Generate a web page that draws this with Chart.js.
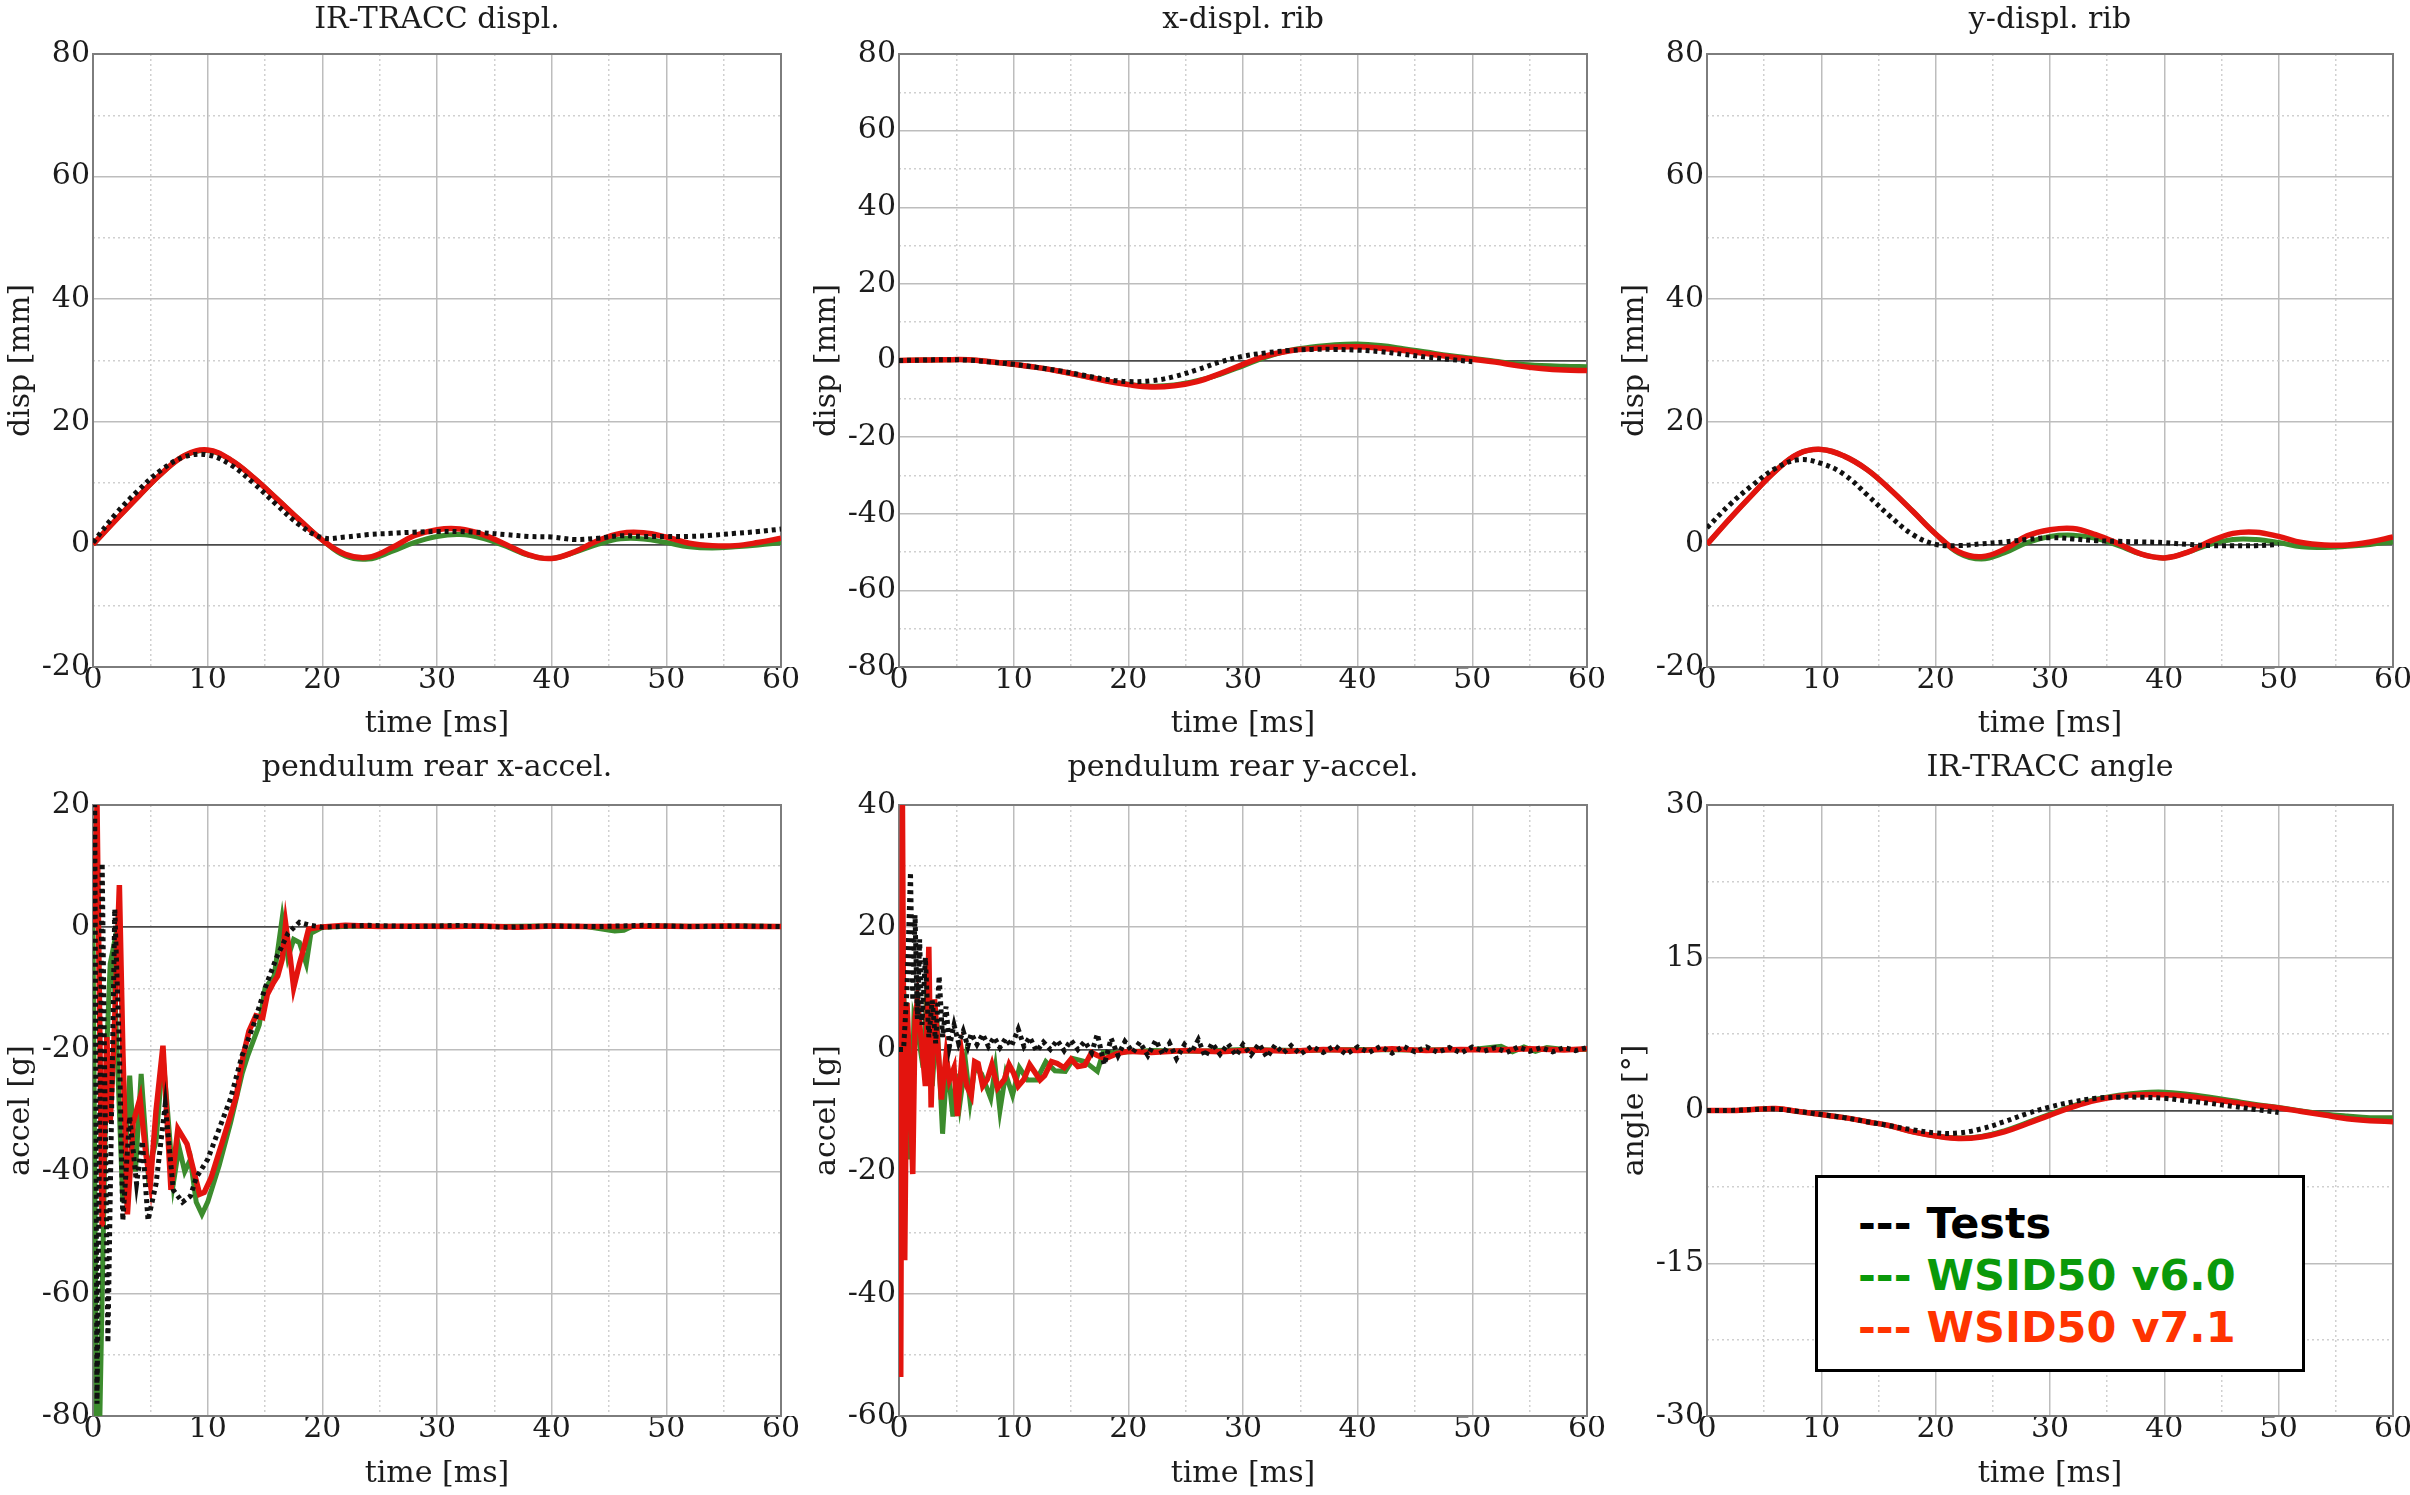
<!DOCTYPE html>
<html>
<head>
<meta charset="utf-8">
<title>WSID50 pendulum comparison</title>
<script src="https://cdn.jsdelivr.net/npm/chart.js@4.4.1/dist/chart.umd.min.js"></script>
<style>
  html, body { margin: 0; padding: 0; background: #fff; }
  body { position: relative; width: 2410px; height: 1495px; overflow: hidden; }
  canvas { position: absolute; }
  #legend {
    position: absolute; left: 1815px; top: 1175px; width: 490px; height: 197px;
    box-sizing: border-box; border: 3px solid #000; background: #fff;
    padding: 19px 0 0 40px; z-index: 2;
    font: bold 43px 'DejaVu Sans', sans-serif; line-height: 52px; white-space: pre;
  }
</style>
</head>
<body>
<canvas id="c1" width="821" height="747" style="left:0px;top:0px"></canvas>
<canvas id="c2" width="821" height="747" style="left:806px;top:0px"></canvas>
<canvas id="c3" width="819" height="747" style="left:1614px;top:0px"></canvas>
<canvas id="c4" width="821" height="745" style="left:0px;top:750px"></canvas>
<canvas id="c5" width="821" height="745" style="left:806px;top:750px"></canvas>
<canvas id="c6" width="819" height="745" style="left:1614px;top:750px"></canvas>
<div id="legend"></div>

<script>
// series names, in legend order
const seriesNames = ['Tests', 'WSID50 v6.0', 'WSID50 v7.1'];

// time samples [ms]
const tSmooth = [0, 2, 4, 6, 8, 10, 12, 14, 16, 18, 20, 22, 24, 26, 28, 30, 32, 34, 36, 38, 40, 42, 44, 46, 48, 50, 52, 54, 56, 58, 60];
const tTo50 = [0, 2, 4, 6, 8, 10, 12, 14, 16, 18, 20, 22, 24, 26, 28, 30, 32, 34, 36, 38, 40, 42, 44, 46, 48, 50];

// IR-TRACC displ. [mm]
const irDispTests = [0.3, 5.0, 8.9, 12.2, 14.3, 14.6, 13.0, 10.0, 6.5, 3.2, 1.1, 1.2, 1.6, 1.8, 2.0, 2.1, 2.1, 1.9, 1.6, 1.3, 1.2, 0.8, 1.0, 1.4, 1.3, 1.3, 1.3, 1.5, 1.8, 2.1, 2.5];
const irDispV60 = [0, 4.0, 7.9, 11.6, 14.5, 15.3, 13.8, 10.9, 7.5, 4.0, 0.7, -1.9, -2.4, -1.2, 0.3, 1.3, 1.6, 1.0, -0.3, -1.8, -2.3, -1.3, 0.0, 0.9, 0.9, 0.3, -0.4, -0.6, -0.4, -0.1, 0.3];
const irDispV71 = [0, 4.0, 7.9, 11.6, 14.5, 15.4, 13.8, 10.9, 7.5, 4.0, 0.7, -1.6, -2.1, -0.6, 1.4, 2.4, 2.5, 1.6, 0.0, -1.7, -2.3, -1.2, 0.6, 1.8, 1.9, 1.2, 0.2, -0.2, -0.2, 0.3, 1.0];

// x-displ. rib [mm]
const xRibTests = [0, 0.1, 0.2, 0.1, -0.4, -1.0, -1.8, -2.7, -3.8, -4.9, -5.5, -5.3, -4.2, -2.4, -0.4, 1.1, 2.0, 2.6, 2.9, 2.9, 2.7, 2.3, 1.6, 0.9, 0.3, -0.3];
const xRibV60 = [0, 0.1, 0.2, 0.2, -0.3, -1.0, -1.8, -2.8, -4.0, -5.2, -6.2, -6.7, -6.4, -5.3, -3.6, -1.4, 0.9, 2.6, 3.5, 4.1, 4.3, 3.9, 3.1, 2.2, 1.3, 0.6, -0.2, -0.9, -1.3, -1.5, -1.6];
const xRibV71 = [0, 0.1, 0.2, 0.2, -0.3, -1.0, -1.8, -2.8, -4.0, -5.3, -6.3, -6.9, -6.6, -5.5, -3.4, -1.0, 1.2, 2.5, 3.1, 3.5, 3.6, 3.2, 2.6, 1.8, 1.0, 0.3, -0.4, -1.4, -2.1, -2.5, -2.6];

// y-displ. rib [mm]
const yRibTests = [2.7, 6.5, 9.7, 12.4, 13.8, 13.2, 11.4, 8.1, 4.6, 1.6, 0.0, -0.2, 0.1, 0.4, 0.8, 1.1, 0.9, 0.6, 0.5, 0.4, 0.3, 0.0, -0.2, -0.2, -0.2, 0.0];
const yRibV60 = [0, 4.2, 8.2, 12.0, 14.8, 15.5, 14.4, 12.2, 9.0, 5.4, 1.7, -1.4, -2.4, -1.4, 0.3, 1.3, 1.5, 1.0, -0.2, -1.6, -2.2, -1.3, 0.0, 0.8, 0.8, 0.3, -0.4, -0.5, -0.3, 0.0, 0.4];
const yRibV71 = [0, 4.2, 8.2, 12.0, 14.8, 15.5, 14.4, 12.2, 9.0, 5.4, 1.7, -1.2, -2.0, -0.8, 1.4, 2.4, 2.6, 1.6, 0.1, -1.6, -2.2, -1.3, 0.5, 1.8, 2.0, 1.3, 0.3, -0.1, -0.1, 0.4, 1.2];

// pendulum rear x-accel. [g]
const accXTestsT = [0, 0.15, 0.35, 0.8, 1.3, 1.9, 2.3, 2.6, 3.2, 3.8, 4.3, 4.8, 5.5, 6.3, 7.0, 7.8, 8.5, 9.0, 10, 11, 12, 13, 14, 15, 16, 17, 18, 19, 20, 24, 28, 32, 36, 40, 44, 48, 52, 56, 60];
const accXTests = [0, 20, -78, 10.5, -68, 3, -20, -48, -31, -42, -35, -48, -42, -29, -43, -45, -44, -41, -38, -33, -28, -21, -16, -10, -5, -1, 0.8, 0.3, 0, 0.3, 0.1, 0.3, 0, 0.2, 0.1, 0.3, 0.1, 0.2, 0.1];
const accXV60T = [0, 0.3, 0.6, 0.9, 1.2, 1.5, 1.75, 2.2, 2.6, 3.2, 3.7, 4.2, 4.8, 5.5, 6.1, 6.5, 7.0, 7.5, 8.0, 8.5, 9.0, 9.5, 10.0, 11.0, 12.0, 13.0, 13.5, 14.5, 15.0, 15.8, 16.5, 17.0, 17.5, 18.0, 18.6, 19.0, 20.0, 23, 27, 31, 35, 39, 43, 45.5, 46.3, 47, 50, 54, 57, 60];
const accXV60 = [0, -80, -80, -50, -20, -6, -3.6, -25, -45, -24.3, -40, -24, -40, -35, -21, -30, -42, -36, -40, -38, -45, -47, -45, -39, -32, -24, -21, -16, -10, -8, 1.5, -5, -2, -2.5, -6, -1, 0, 0.2, 0.1, 0.2, 0.1, 0.2, 0.1, -0.6, -0.5, 0.1, 0.2, 0.1, 0.2, 0.1];
const accXV71T = [0, 0.35, 0.8, 1.2, 1.5, 1.8, 2.3, 2.6, 3.0, 3.5, 4.1, 4.6, 5.0, 5.5, 6.1, 6.8, 7.4, 8.2, 8.8, 9.3, 9.7, 10.3, 11.0, 11.8, 12.5, 13.1, 13.6, 14.2, 14.8, 15.2, 15.7, 16.1, 16.5, 16.8, 17.2, 17.5, 18.0, 18.4, 18.8, 19.7, 22, 25, 28, 31, 34, 37, 40, 43, 46, 49, 52, 55, 58, 60];
const accXV71 = [0, 20, -49, -18, -32, -20, 6.9, -20, -47, -32, -28, -37, -42, -30, -19.4, -43, -33, -35.5, -40, -43.7, -43.4, -41, -36.8, -32, -27.6, -21, -17, -14.5, -14.8, -11, -9.2, -8, -5.3, 0.6, -5, -9.9, -6, -3.3, -0.3, 0, 0.3, 0.1, 0.2, 0.1, 0.2, 0, 0.2, 0.1, 0.1, 0.2, 0.1, 0.2, 0.1, 0.1];

// pendulum rear y-accel. [g]
const accYTestsT = [0, 0.4, 0.7, 1.0, 1.2, 1.4, 1.6, 1.8, 2.0, 2.3, 2.6, 2.9, 3.2, 3.5, 3.8, 4.1, 4.4, 4.8, 5.2, 5.6, 6.0, 6.3, 6.8, 7.3, 7.8, 8.3, 8.8, 9.3, 9.8, 10.4, 10.9, 11.4, 12.0, 12.6, 13.2, 13.8, 14.4, 15.0, 15.6, 16.2, 16.8, 17.3, 17.9, 18.5, 19.1, 19.7, 20.4, 21.0, 21.7, 22.4, 23.0, 23.6, 24.2, 24.9, 25.5, 26.1, 26.7, 27.3, 28.0, 28.7, 29.4, 30.0, 30.7, 31.4, 32.1, 32.8, 33.5, 34.2, 35, 36, 37, 38, 39, 40, 41, 42, 43, 44, 45, 46, 47, 48, 49, 50, 51, 52, 53, 54, 55, 56, 57, 58, 59, 60];
const accYTests = [0, 0, 10, 29, 8, 22, 5, 18, 4, 15, 2, 8, 1, 12, 2, 7, 0.5, 4, 1, 3, 0.5, 2.6, 0.8, 2.5, 0.5, 2, 0.3, 1.8, 0.5, 3.3, 0.5, 2, -0.3, 1.2, 0, 1.5, -0.2, 1.5, 0, 1.3, -0.5, 2.5, -2.5, 1.8, -1, 1.3, -0.5, 1.2, -1, 1.5, -0.8, 1, -1.5, 0.8, -0.5, 1.6, -1.2, 1, -0.8, 0.9, -1, 0.8, -0.9, 0.9, -1.3, 0.7, -0.6, 0.6, -0.8, 0.5, -0.5, 0.6, -0.8, 0.4, -0.5, 0.5, -0.6, 0.5, -0.4, 0.4, -0.5, 0.3, -0.6, 0.4, -0.3, 0.3, -0.5, 0.4, -0.3, 0.3, -0.4, 0.3, -0.2, 0.3];
const accYV60T = [0, 0.2, 0.4, 0.7, 1.0, 1.3, 1.7, 2.1, 2.5, 2.9, 3.3, 3.8, 4.2, 4.7, 5.0, 5.3, 5.8, 6.2, 6.6, 7.2, 8.0, 8.4, 8.8, 9.3, 9.9, 10.5, 11.2, 12.0, 12.8, 13.6, 14.5, 15.2, 16.2, 17.3, 17.8, 19, 22, 26, 30, 35, 40, 45, 50, 52.5, 53.5, 54.5, 55.5, 56.5, 58, 60];
const accYV60 = [0, -20, 10, -5, -18, 5, 2, -3, 12, -6, 5, -13.8, -2, -11, -4, -9, -2, -8.5, -3, -4, -8, -3, -10, -4, -7.5, -3, -5, -5, -2, -3.5, -3.6, -1.5, -2, -3.6, -0.5, -0.5, -0.2, -0.3, 0, -0.2, 0, -0.1, 0, 0.5, -0.4, 0.4, -0.3, 0.3, 0, 0];
const accYV71T = [0, 0.15, 0.3, 0.5, 0.7, 0.95, 1.2, 1.4, 1.6, 2.0, 2.3, 2.6, 2.8, 3.1, 3.4, 3.7, 4.1, 4.4, 4.8, 5.1, 5.5, 5.9, 6.3, 6.6, 6.9, 7.3, 7.7, 8.1, 8.6, 9.2, 9.6, 10.0, 10.4, 10.9, 11.4, 11.8, 12.3, 12.7, 13.3, 13.8, 14.4, 15.0, 15.6, 16.2, 16.8, 17.3, 18.0, 19.0, 20, 22, 25, 28, 31, 34, 37, 40, 43, 46, 49, 52, 55, 58, 60];
const accYV71 = [0, -53.6, 40, -34.5, 7.6, -5, -20.4, 5, 8, 0.3, -6, 16.8, -9.5, 8.2, 0.3, -8.2, -1, -5, -3, -10.9, -1, -6, -7.6, -2, -2.3, -6, -4.9, -2.5, -6.3, -4.9, -2.5, -3.9, -6, -4.9, -2.5, -3.6, -5, -4.3, -2, -2.3, -3, -1.6, -2.8, -2.6, -0.5, -1, -1.5, -0.7, -0.3, -0.5, -0.2, -0.4, -0.1, -0.3, 0, -0.2, 0.1, -0.2, 0, -0.1, 0.1, -0.1, 0.1];

// IR-TRACC angle [deg]
const angleTests = [0, 0.0, 0.1, 0.15, -0.1, -0.4, -0.7, -1.1, -1.5, -1.9, -2.2, -2.2, -1.8, -1.1, -0.3, 0.35, 0.85, 1.2, 1.3, 1.3, 1.2, 0.95, 0.7, 0.4, 0.1, -0.2];
const angleV60 = [0, 0.0, 0.1, 0.2, -0.1, -0.4, -0.7, -1.1, -1.5, -2.1, -2.5, -2.7, -2.55, -2.0, -1.2, -0.35, 0.45, 1.1, 1.5, 1.75, 1.8, 1.6, 1.3, 0.95, 0.6, 0.3, -0.05, -0.35, -0.55, -0.7, -0.7];
const angleV71 = [0, 0.0, 0.1, 0.2, -0.1, -0.4, -0.7, -1.1, -1.5, -2.1, -2.5, -2.75, -2.6, -2.1, -1.3, -0.45, 0.35, 1.0, 1.4, 1.55, 1.55, 1.4, 1.1, 0.8, 0.5, 0.25, -0.1, -0.45, -0.8, -1.0, -1.1];

const panels = [
  { id: 'c1', row: 0, title: 'IR-TRACC displ.', yTitle: 'disp [mm]', yMin: -20, yMax: 80, yStep: 20, yMinor: 10, smooth: true,
    tests: [tSmooth, irDispTests], v60: [tSmooth, irDispV60], v71: [tSmooth, irDispV71] },
  { id: 'c2', row: 0, title: 'x-displ. rib', yTitle: 'disp [mm]', yMin: -80, yMax: 80, yStep: 20, yMinor: 10, smooth: true,
    tests: [tTo50, xRibTests], v60: [tSmooth, xRibV60], v71: [tSmooth, xRibV71] },
  { id: 'c3', row: 0, title: 'y-displ. rib', yTitle: 'disp [mm]', yMin: -20, yMax: 80, yStep: 20, yMinor: 10, smooth: true,
    tests: [tTo50, yRibTests], v60: [tSmooth, yRibV60], v71: [tSmooth, yRibV71] },
  { id: 'c4', row: 1, title: 'pendulum rear x-accel.', yTitle: 'accel [g]', yMin: -80, yMax: 20, yStep: 20, yMinor: 10, smooth: false,
    tests: [accXTestsT, accXTests], v60: [accXV60T, accXV60], v71: [accXV71T, accXV71] },
  { id: 'c5', row: 1, title: 'pendulum rear y-accel.', yTitle: 'accel [g]', yMin: -60, yMax: 40, yStep: 20, yMinor: 10, smooth: false,
    tests: [accYTestsT, accYTests], v60: [accYV60T, accYV60], v71: [accYV71T, accYV71] },
  { id: 'c6', row: 1, title: 'IR-TRACC angle', yTitle: 'angle [°]', yMin: -30, yMax: 30, yStep: 15, yMinor: 7.5, smooth: true,
    tests: [tTo50, angleTests], v60: [tSmooth, angleV60], v71: [tSmooth, angleV71] },
];

const TEXT = '#1c1c1c';
const GRID = '#bdbdbd';
const MINOR = '#d0d0d0';
const ZERO = '#4a4a4a';
const lineColors = ['#111111', '#3c8c2d', '#e3140e'];
const legendColors = ['#000000', '#0a990a', '#ff3300'];

Chart.defaults.font.family = "'DejaVu Serif', serif";
Chart.defaults.font.size = 30;
Chart.defaults.color = TEXT;

function pts(ts, ys) {
  return ts.map((t, i) => ({ x: t, y: ys[i] }));
}

function onStep(v, step) {
  const r = v / step;
  return Math.abs(r - Math.round(r)) < 1e-6;
}

// dark frame round the plot area
const framePlugin = {
  id: 'frame',
  beforeDatasetsDraw(chart) {
    const { ctx, chartArea: a } = chart;
    ctx.save();
    ctx.strokeStyle = '#7d7d7d';
    ctx.lineWidth = 2;
    ctx.strokeRect(a.left, a.top, a.right - a.left, a.bottom - a.top);
    ctx.restore();
  }
};

function createPanel(p) {
  const topRow = p.row === 0;
  const tension = p.smooth ? 0.4 : 0;
  const minorGrid = (major) => ({
    color: (c) => (c.tick && !onStep(c.tick.value, major)) ? MINOR : 'rgba(0,0,0,0)',
    lineWidth: 1.5,
    drawTicks: false,
  });

  new Chart(document.getElementById(p.id), {
    type: 'line',
    data: {
      datasets: [
        { label: seriesNames[0], data: pts(p.tests[0], p.tests[1]), xAxisID: 'x', yAxisID: 'y',
          borderColor: lineColors[0], borderWidth: 5, borderDash: [4, 4], pointRadius: 0, tension: tension },
        { label: seriesNames[2], data: pts(p.v71[0], p.v71[1]), xAxisID: 'x', yAxisID: 'y',
          borderColor: lineColors[2], borderWidth: 5.5, pointRadius: 0, tension: tension },
        { label: seriesNames[1], data: pts(p.v60[0], p.v60[1]), xAxisID: 'x', yAxisID: 'y',
          borderColor: lineColors[1], borderWidth: 5, pointRadius: 0, tension: tension },
      ],
    },
    options: {
      responsive: false,
      animation: false,
      events: [],
      layout: { padding: { top: topRow ? 2 : 0, right: 40, bottom: 0, left: 0 } },
      plugins: {
        legend: { display: false },
        tooltip: { enabled: false },
        title: {
          display: true, text: p.title, fullSize: false, color: TEXT,
          font: { size: 30, weight: 'normal', lineHeight: 1.2 },
          padding: { top: 0, bottom: topRow ? 16 : 19 },
        },
      },
      scales: {
        x: {
          type: 'linear', min: 0, max: 60, position: 'bottom', weight: 1,
          ticks: { stepSize: 10, maxTicksLimit: 50, autoSkip: false, maxRotation: 0, padding: -2,
                   color: TEXT, font: { size: 30, lineHeight: 1 }, callback: (v) => String(v) },
          grid: { color: GRID, lineWidth: 1.5, drawTicks: false },
          border: { display: false },
          title: { display: true, text: 'time [ms]', color: TEXT, font: { size: 30, lineHeight: 1.2 },
                   padding: { top: 0, bottom: topRow ? 5 : 3 } },
          afterFit: (s) => { s.height = topRow ? 80 : 79; },
        },
        xm: {
          type: 'linear', axis: 'x', min: 0, max: 60, position: 'bottom', weight: 0,
          ticks: { display: false, stepSize: 5, maxTicksLimit: 50 },
          grid: minorGrid(10),
          border: { display: false, dash: [2, 3] },
          afterFit: (s) => { s.height = 0; },
        },
        y: {
          type: 'linear', min: p.yMin, max: p.yMax, position: 'left', weight: 1,
          ticks: { stepSize: p.yStep, maxTicksLimit: 50, autoSkip: false, padding: 3,
                   color: TEXT, font: { size: 30 }, callback: (v) => String(v) },
          grid: {
            color: (c) => (c.tick && c.tick.value === 0) ? ZERO : GRID,
            lineWidth: (c) => (c.tick && c.tick.value === 0) ? 1.8 : 1.5,
            drawTicks: false,
          },
          border: { display: false },
          title: { display: true, text: p.yTitle, color: TEXT, font: { size: 30, lineHeight: 1.2 },
                   padding: { top: 3, bottom: 0 } },
          afterFit: (s) => { s.width = 93; },
        },
        ym: {
          type: 'linear', axis: 'y', min: p.yMin, max: p.yMax, position: 'left', weight: 0,
          ticks: { display: false, stepSize: p.yMinor, maxTicksLimit: 50 },
          grid: minorGrid(p.yStep),
          border: { display: false, dash: [2, 3] },
          afterFit: (s) => { s.width = 0; },
        },
      },
    },
    plugins: [framePlugin],
  });
}

panels.forEach(createPanel);

// legend box
const legendBox = document.getElementById('legend');
seriesNames.forEach((name, i) => {
  const row = document.createElement('div');
  row.textContent = '--- ' + name;
  row.style.color = legendColors[i];
  legendBox.appendChild(row);
});
</script>
</body>
</html>
